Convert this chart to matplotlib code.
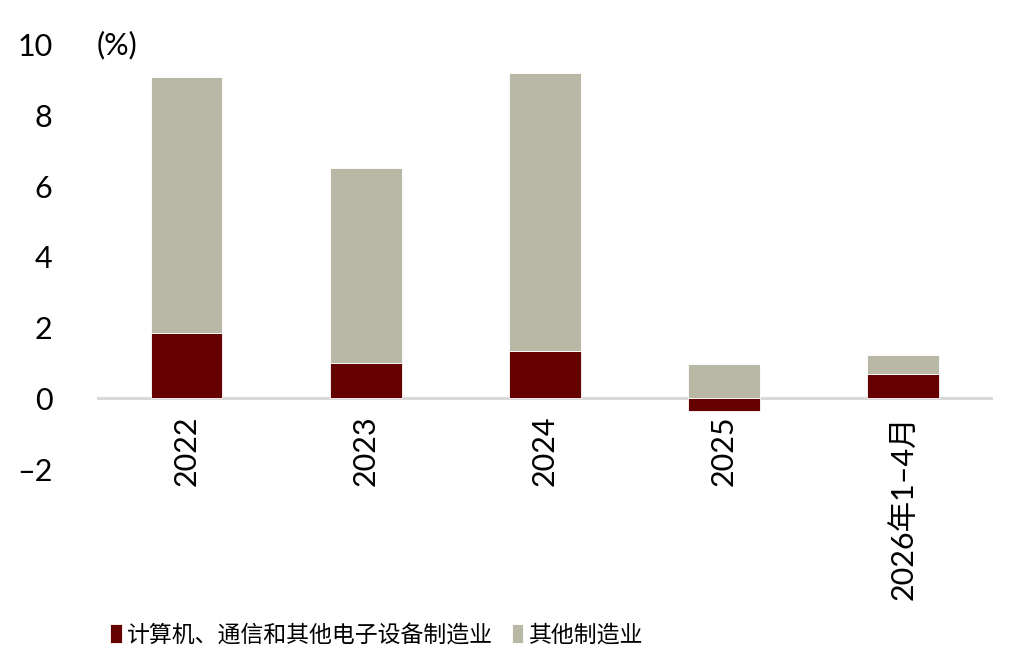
import numpy as np
import matplotlib
matplotlib.use("Agg")
import matplotlib.pyplot as plt

plt.rcParams['font.family'] = ['Lato', 'Noto Sans CJK SC', 'DejaVu Sans']

# 数据
categories = ['2022', '2023', '2024', '2025', '2026年1–4月']
electronics = [1.86, 1.01, 1.33, -0.36, 0.70]   # 计算机、通信和其他电子设备制造业
other_mfg = [7.24, 5.50, 7.87, 0.98, 0.52]      # 其他制造业
series_names = ['计算机、通信和其他电子设备制造业', '其他制造业']

c_dark = '#640000'
c_grey = '#b9b8a7'

fig = plt.figure(figsize=(10.09, 6.71), dpi=100)
ax = fig.add_axes([0.096, 0.301, 0.888, 0.632])

x = np.arange(len(categories))
elec = np.array(electronics)
bottom = np.clip(elec, 0, None)

b1 = ax.bar(x, elec, width=0.4, color=c_dark, edgecolor='white', linewidth=0.6, zorder=3)
b2 = ax.bar(x, other_mfg, width=0.4, bottom=bottom, color=c_grey, edgecolor='white',
            linewidth=0.6, zorder=3)

ax.axhline(0, color='#d9d9d9', linewidth=2.2, zorder=2)

# x轴标签紧贴零线（先设位置，再设标签）
ax.spines['bottom'].set_position(('data', 0))
for s in ax.spines.values():
    s.set_visible(False)

ax.set_xlim(-0.5, len(categories) - 0.5)
ax.set_ylim(-2, 10)
ax.set_yticks(np.arange(-2, 11, 2))
ax.set_yticklabels(['–2', '0', '2', '4', '6', '8', '10'])
ax.set_xticks(x)
ax.set_xticklabels(categories, rotation=90, va='top')

ax.tick_params(axis='y', length=0, pad=32, labelsize=22)
ax.tick_params(axis='x', length=0, pad=12, labelsize=22)

ax.text(0.0, 1.0, '(%)', transform=ax.transAxes, fontsize=22, ha='left', va='center')

fig.legend([b1, b2], series_names, loc='center left', bbox_to_anchor=(0.1, 0.054),
           ncol=2, frameon=False, fontsize=16.5, handlelength=0.5, handleheight=0.9,
           handletextpad=0.25, columnspacing=0.8, borderaxespad=0)

fig.savefig('out.png', dpi=100)
